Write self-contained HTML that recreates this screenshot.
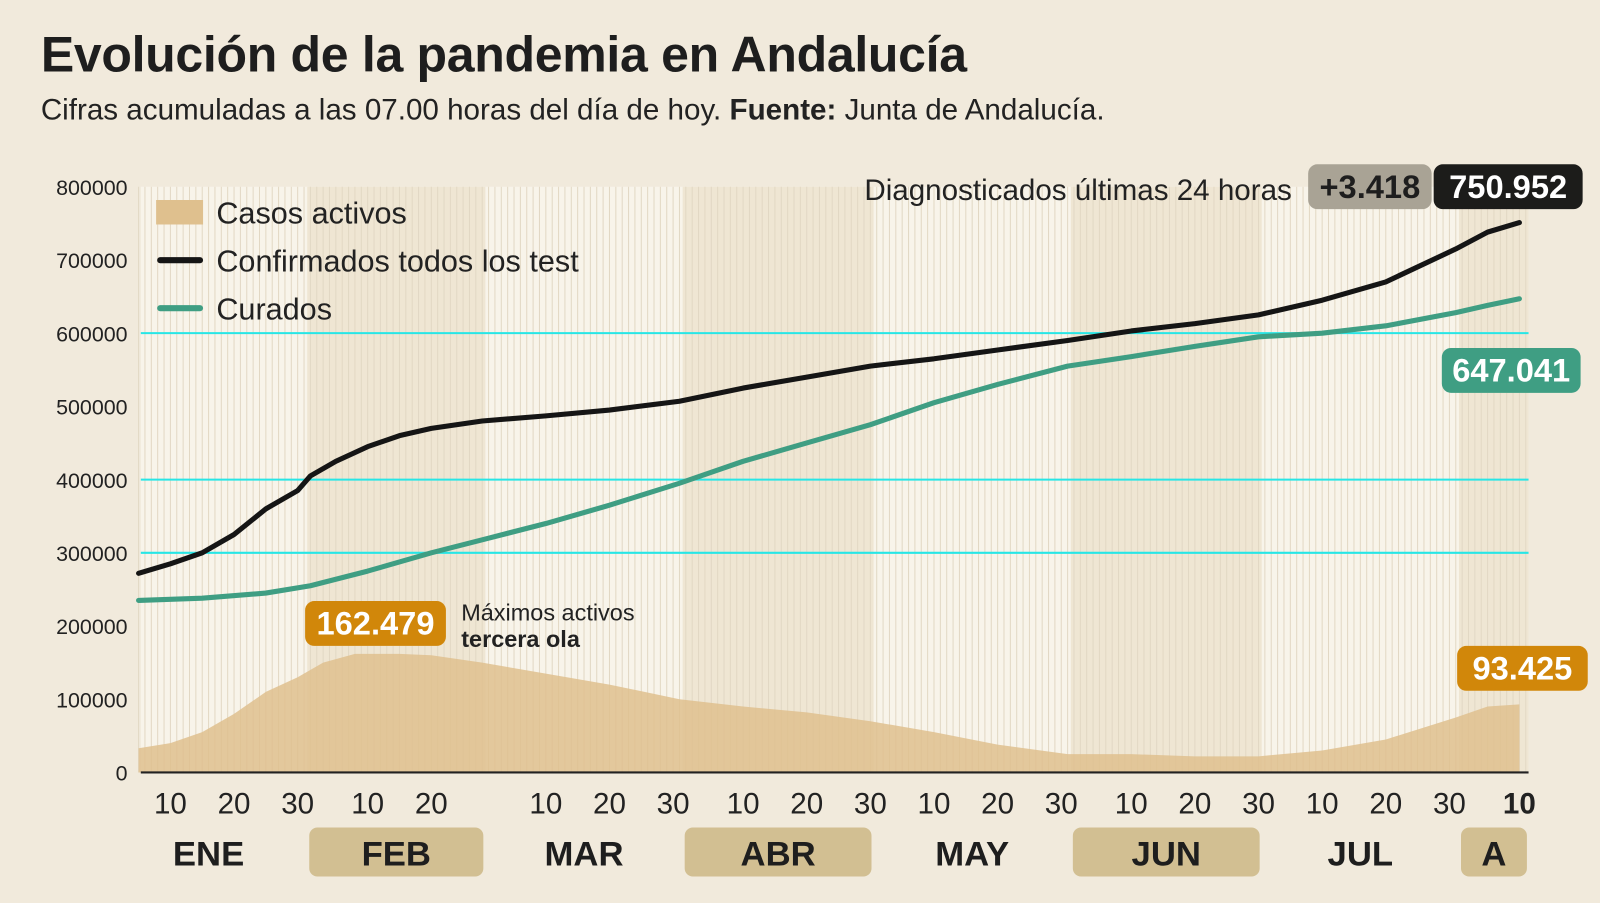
<!DOCTYPE html>
<html><head><meta charset="utf-8"><style>
body{margin:0;background:#f1eadc;font-family:"Liberation Sans",sans-serif;}
#outer{position:relative;width:1600px;height:903px;overflow:hidden;background:#f1eadc}
#wrap{position:absolute;left:0;top:0;width:1568px;height:885px;transform:scale(1.0204);transform-origin:0 0}
h1{position:absolute;left:40px;top:26px;margin:0;font-size:49px;font-weight:bold;color:#1e1e1e;letter-spacing:-0.3px}
.sub{position:absolute;left:40px;top:92px;font-size:29px;color:#222}
</style></head><body>
<div id="outer">
<div id="wrap">
<h1>Evolución de la pandemia en Andalucía</h1>
<div class="sub">Cifras acumuladas a las 07.00 horas del día de hoy. <b>Fuente:</b> Junta de Andalucía.</div>
<svg id="svg" width="1568" height="885" style="position:absolute;left:0;top:0"></svg>
</div></div>
<script>
const confirmedDays=[5,10,15,20,25,30,32,36,41,46,51,59,69,79,90,100,110,120,130,140,151,161,171,181,191,201,212,217,222];
const confirmedVals=[272000,285000,300000,325000,360000,385000,405000,425000,445000,460000,470000,480000,487000,495000,507000,525000,540000,555000,565000,577000,590000,603000,613000,625000,645000,670000,715000,738000,751000];
const curadosDays=[5,15,25,32,41,51,60,69,79,90,100,110,120,130,140,151,161,171,181,191,201,212,217,222];
const curadosVals=[235000,238000,245000,255000,275000,300000,320000,340000,365000,395000,425000,450000,475000,505000,530000,555000,568000,582000,595000,600000,610000,628000,638000,647000];
const activosDays=[5,10,15,20,25,30,34,39,46,51,59,69,79,90,100,110,120,130,140,151,161,171,181,191,201,212,217,222];
const activosVals=[33000,40000,55000,80000,110000,130000,150000,162000,162000,160000,150000,135000,120000,100000,90000,82000,70000,55000,38000,25000,25000,22000,22000,30000,45000,75000,90000,93000];
const yTicks=[0,100000,200000,300000,400000,500000,600000,700000,800000];
const dayTicks=[10,20,30,41,51,69,79,89,100,110,120,130,140,150,161,171,181,191,201,211,222];
const dayTickLabels=["10","20","30","10","20","10","20","30","10","20","30","10","20","30","10","20","30","10","20","30","10"];
const months=[["ENE",1,31,false],["FEB",32,59,true],["MAR",60,90,false],["ABR",91,120,true],["MAY",121,151,false],["JUN",152,181,true],["JUL",182,212,false],["A",213,223,true]];

const NS="http://www.w3.org/2000/svg";
const svg=document.getElementById('svg');
const X0=138,X1=1498,Y0=757,Y1=183;
const x=d=>167+(d-10)*6.236;
const y=v=>Y0-(v/800000)*(Y0-Y1);
function el(t,a,p){const e=document.createElementNS(NS,t);for(const k in a)e.setAttribute(k,a[k]);(p||svg).appendChild(e);return e;}
let bg=el('rect',{x:X0,y:Y1,width:X1-X0,height:Y0-Y1,fill:'#f8f4ea'});

months.forEach(m=>{if(m[3]){const r=el('rect',{x:x(m[1]-0.5),y:Y1,width:Math.min(x(m[2]+0.5),X1)-x(m[1]-0.5),height:Y0-Y1,fill:'#efe6d3'});
}});
for(let d=5;d<=223;d++){const l=el('line',{x1:x(d),x2:x(d),y1:Y1,y2:Y0,stroke:'#e2d8c4','stroke-width':1});
}
let pts=[x(activosDays[0])+','+Y0];activosDays.forEach((d,i)=>pts.push(x(d)+','+y(activosVals[i])));pts.push(x(activosDays[activosDays.length-1])+','+Y0);
let ar=el('polygon',{points:pts.join(' '),fill:'#dfc08e',opacity:0.85});

[300000,400000,600000].forEach(v=>{const l=el('line',{x1:X0,x2:X1,y1:y(v),y2:y(v),stroke:'#27e6e6','stroke-width':2});
});
let ax=el('line',{x1:X0,x2:X1,y1:Y0,y2:Y0,stroke:'#222','stroke-width':2});

yTicks.forEach(v=>{const t=el('text',{x:125,y:y(v)+8,'text-anchor':'end','font-size':21,fill:'#222'});t.textContent=v;
});
function line(days,vals,col,name){const p=el('polyline',{points:days.map((d,i)=>x(d)+','+y(vals[i])).join(' '),fill:'none',stroke:col,'stroke-width':5,'stroke-linejoin':'round','stroke-linecap':'round'});
}
line(curadosDays,curadosVals,'#3f9e83','curados-line');
line(confirmedDays,confirmedVals,'#151515','confirmados-line');
dayTicks.forEach((d,i)=>{const last=i==dayTicks.length-1;
const t=el('text',{x:last?1489:x(d),y:797,'text-anchor':'middle','font-size':29,fill:'#222','font-weight':last?'bold':'normal'});t.textContent=dayTickLabels[i];
});
months.forEach(m=>{const a=x(m[1]-0.5)+2,b=Math.min(x(m[2]+0.5),1500)-2;
if(m[3]){const r=el('rect',{x:a,y:811,width:b-a,height:48,rx:8,fill:'#d2bf92'});}
const t=el('text',{x:(a+b)/2,y:848,'text-anchor':'middle','font-size':34,'font-weight':'bold',fill:'#1e1e1e'});t.textContent=m[0];
});
const lg=[['Casos activos','rect','#dfc08e'],['Confirmados todos los test','line','#151515'],['Curados','line','#3f9e83']];
lg.forEach((g,i)=>{const yy=208+i*47;
const s=g[1]=='rect'?el('rect',{x:153,y:yy-12,width:46,height:24,fill:g[2]}):el('line',{x1:157,x2:196,y1:yy,y2:yy,stroke:g[2],'stroke-width':6,'stroke-linecap':'round'});

const t=el('text',{x:212,y:yy+11,'font-size':30,fill:'#222'});t.textContent=g[0];
});
function badge(cx,cy,w,txt,bgc,name,fc){const r=el('rect',{x:cx,y:cy,width:w,height:44,rx:9,fill:bgc});
const t=el('text',{x:cx+w/2,y:cy+33,'text-anchor':'middle','font-size':32,'font-weight':'bold',fill:fc||'#fff'});t.textContent=txt;
}
let dt=el('text',{x:1266,y:196,'text-anchor':'end','font-size':29,fill:'#222'});dt.textContent='Diagnosticados últimas 24 horas';

badge(1282,161,121,'+3.418','#a9a395','diagnosticados-value','#1e1e1e');
badge(1405,161,146,'750.952','#1c1c1a','confirmados-value');
badge(1413,341,136,'647.041','#3f9e83','curados-value');
badge(1428,633,128,'93.425','#d1870a','activos-value');
badge(299,589,138,'162.479','#d1870a','max-activos-value');
let m1=el('text',{x:452,y:608,'font-size':23,fill:'#222'});m1.textContent='Máximos activos';
let m2=el('text',{x:452,y:634,'font-size':23,'font-weight':'bold',fill:'#222'});m2.textContent='tercera ola';
</script>
</body></html>
